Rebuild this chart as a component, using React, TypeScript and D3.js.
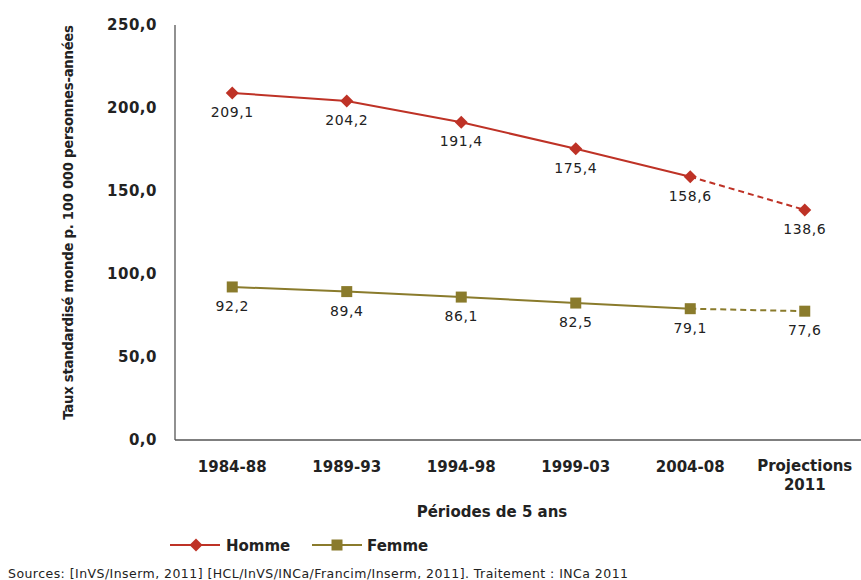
import React from 'react';
import * as d3 from 'd3';

const periods = ['1984-88', '1989-93', '1994-98', '1999-03', '2004-08', 'Projections 2011'];
const homme = [209.1, 204.2, 191.4, 175.4, 158.6, 138.6];
const femme = [92.2, 89.4, 86.1, 82.5, 79.1, 77.6];
const yTicks = [0, 50, 100, 150, 200, 250];

const W = 861;
const H = 580;
const FONT = "'DejaVu Sans', Verdana, sans-serif";
const RED = '#BE3226';
const OLIVE = '#8A7B2C';

const fmt = (v: number) => v.toFixed(1).replace('.', ',');

const App: React.FC = () => {
  const x = d3.scaleBand<string>().domain(periods).range([175, 862]);
  const y = d3.scaleLinear().domain([0, 250]).range([440, 25]);
  const cx = (p: string) => (x(p) || 0) + x.bandwidth() / 2;

  const line = d3.line<number>()
    .x((_, i) => cx(periods[i]))
    .y(d => y(d));

  const series = [
    { name: 'Homme', values: homme, color: RED, shape: 'diamond' },
    { name: 'Femme', values: femme, color: OLIVE, shape: 'square' },
  ];

  const marker = (shape: string, px: number, py: number, color: string, key: string) =>
    shape === 'diamond'
      ? <path key={key} d={`M${px},${py - 6.5}L${px + 6.5},${py}L${px},${py + 6.5}L${px - 6.5},${py}Z`} fill={color} />
      : <rect key={key} x={px - 5.5} y={py - 5.5} width={11} height={11} fill={color} />;

  const n = periods.length;

  return (
    <svg width={W} height={H} style={{ position: 'absolute', left: 0, top: 0 }} fontFamily={FONT}>
      <rect width={W} height={H} fill="#fff" />
      {/* axes */}
      <line x1={175} x2={175} y1={y(250)} y2={y(0)} stroke="#555" strokeWidth={1.3} />
      <line x1={175} x2={862} y1={y(0)} y2={y(0)} stroke="#555" strokeWidth={1.3} />
      {yTicks.map(t => (
        <text key={t} x={157} y={y(t) + 5} textAnchor="end" fontSize={15} fontWeight="bold" fill="#222" letterSpacing={0.5}>
          {fmt(t)}
        </text>
      ))}
      {periods.map(p => {
        const parts = p.split(' ');
        return parts.length === 1 ? (
          <text key={p} x={cx(p)} y={472} textAnchor="middle" fontSize={15} fontWeight="bold" fill="#222">{p}</text>
        ) : (
          <text key={p} x={cx(p)} y={471} textAnchor="middle" fontSize={15} fontWeight="bold" fill="#222">
            <tspan x={cx(p)} dy={0}>{parts[0]}</tspan>
            <tspan x={cx(p)} dy={19}>{parts[1]}</tspan>
          </text>
        );
      })}
      <text x={492} y={517} textAnchor="middle" fontSize={15} fontWeight="bold" fill="#222">Périodes de 5 ans</text>
      <text transform={`translate(73,${y(125) - 10}) rotate(-90)`} textAnchor="middle" fontSize={13.3} fontWeight="bold" fill="#222" letterSpacing={-0.3}>
        Taux standardisé monde p. 100 000 personnes-années
      </text>

      {/* series */}
      {series.map(s => (
        <g key={s.name}>
          <path d={line(s.values.slice(0, n - 1)) || ''} fill="none" stroke={s.color} strokeWidth={2} />
          <path
            d={`M${cx(periods[n - 2])},${y(s.values[n - 2])}L${cx(periods[n - 1])},${y(s.values[n - 1])}`}
            fill="none" stroke={s.color} strokeWidth={2} strokeDasharray="6,4"
          />
          {s.values.map((v, i) => marker(s.shape, cx(periods[i]), y(v), s.color, `${s.name}-${i}`))}
          {s.values.map((v, i) => (
            <text key={`l-${i}`} x={cx(periods[i])} y={y(v) + 24} textAnchor="middle" fontSize={14} fill="#222" letterSpacing={0.6}>
              {fmt(v)}
            </text>
          ))}
        </g>
      ))}

      {/* legend */}
      <line x1={170} x2={220} y1={545} y2={545} stroke={RED} strokeWidth={2} />
      {marker('diamond', 196, 545, RED, 'lg-h')}
      <text x={226} y={551} fontSize={15} fontWeight="bold" fill="#222">Homme</text>
      <line x1={312} x2={362} y1={545} y2={545} stroke={OLIVE} strokeWidth={2} />
      {marker('square', 337, 545, OLIVE, 'lg-f')}
      <text x={367} y={551} fontSize={15} fontWeight="bold" fill="#222">Femme</text>

      <text x={8} y={578} fontSize={12.5} fill="#222" letterSpacing={0.45}>
        Sources: [InVS/Inserm, 2011] [HCL/InVS/INCa/Francim/Inserm, 2011]. Traitement : INCa 2011
      </text>
    </svg>
  );
};

export default App;
